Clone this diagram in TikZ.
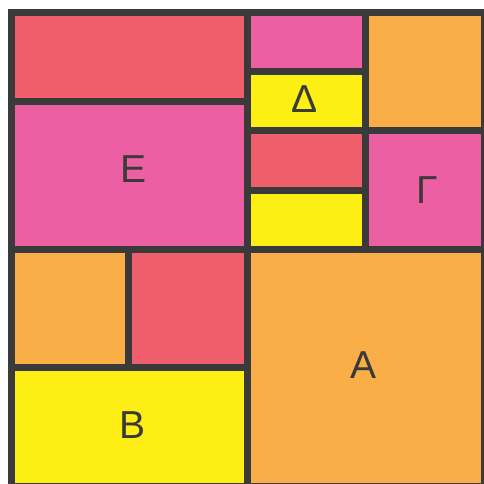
\documentclass[tikz,border=0pt]{standalone}
\usepackage{fontspec}
\setmainfont{Liberation Sans}
\usepackage{xcolor}
\usetikzlibrary{positioning}

\definecolor{ink}{HTML}{3A3A3A}
\definecolor{tred}{HTML}{EF5F6B}
\definecolor{tpink}{HTML}{EC5FA2}
\definecolor{torange}{HTML}{F9AE48}
\definecolor{tyellow}{HTML}{FDEE14}

\begin{document}
\begin{tikzpicture}[
  x=1pt, y=-1pt,
  tile/.style={draw=ink, line width=7pt, line join=miter},
  lbl/.style={font=\fontsize{39}{39}\selectfont, text=ink, inner sep=0pt}]

  \useasboundingbox (0,0) rectangle (484,483);
  \fill[white] (0,0) rectangle (484,483);
  \clip (0,0) rectangle (484,483);

  % tiles, corners on the centre lines of the dark bars
  \foreach \xa/\ya/\xb/\yb/\col in {
      11/12.5/247/101.5/tred,
      11/101.5/247/249/tpink,
      11/249/128.5/367.5/torange,
      128.5/249/247/367.5/tred,
      11/367.5/247/486.5/tyellow,
      247/12.5/365.5/71.5/tpink,
      247/71.5/365.5/130.5/tyellow,
      247/130.5/365.5/190/tred,
      247/190/365.5/249/tyellow,
      365.5/12.5/484.5/130.5/torange,
      365.5/130.5/484.5/249/tpink,
      247/249/484.5/486.5/torange}
    \filldraw[tile, fill=\col] (\xa,\ya) rectangle (\xb,\yb);

  \node[lbl] (epsilon) at (134,169)   {Ε};
  \node[lbl] (delta)   at (305,99)    {Δ};
  \node[lbl] (gamma)   at (427.5,190.5) {Γ};
  \node[lbl] (alpha)   at (364,365)   {Α};
  \node[lbl] (beta)    at (133,425)   {Β};
\end{tikzpicture}
\end{document}
